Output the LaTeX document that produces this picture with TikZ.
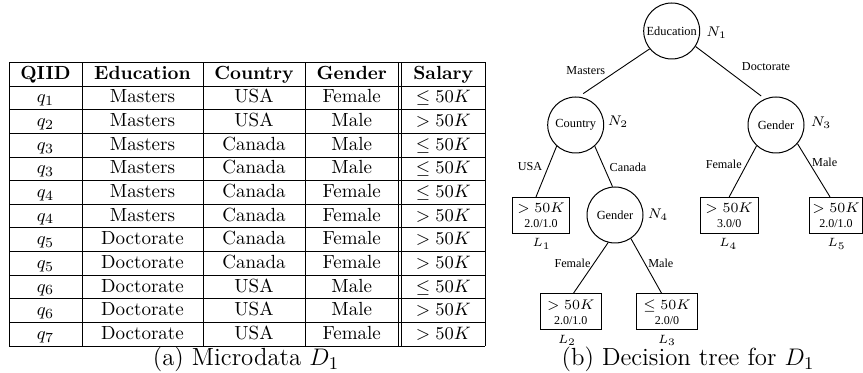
\documentclass[tikz,border=0pt]{standalone}
\usepackage{fontspec}
\newfontfamily\tms{Liberation Serif}
\usetikzlibrary{calc}
\begin{document}
\begin{tikzpicture}[x=0.5pt,y=-0.5pt,
  tline/.style={line width=0.5pt},
  cell/.style={inner sep=0pt, text height=1.6ex, text depth=0.45ex, font=\fontsize{9.5}{11}\selectfont},
  hcell/.style={inner sep=0pt, text height=1.6ex, text depth=0.45ex, font=\fontsize{9.5}{11}\selectfont\bfseries},
  tnode/.style={circle, draw, line width=0.5pt, minimum size=28pt, inner sep=0pt, font=\tms\fontsize{6.2}{7}\selectfont},
  leaf/.style={draw, line width=0.5pt, inner sep=0pt, align=center, font=\fontsize{7.5}{7.6}\selectfont},
  elab/.style={font=\tms\fontsize{6.1}{7}\selectfont, inner sep=0pt},
  nlab/.style={font=\fontsize{7.5}{9}\selectfont, inner sep=0pt},
  llab/.style={font=\fontsize{6}{7}\selectfont, inner sep=0pt},
  edge/.style={line width=0.45pt},
  capt/.style={font=\fontsize{12.4}{14}\selectfont, inner sep=0pt, anchor=base}
]
\useasboundingbox (0,0) rectangle (863,373);
% ---------- table ----------
\def\rh{23.64}
\foreach \k in {0,...,12}{
  \pgfmathsetmacro\yy{62.5+\rh*\k}
  \draw[tline] (9,\yy) -- (485,\yy);
}
\pgfmathsetmacro\ybot{62.5+\rh*12}
\foreach \xx in {9,82,203,305,398.5,401.5,485}{
  \draw[tline] (\xx,62.5) -- (\xx,\ybot);
}
\pgfmathsetmacro\yh{62.5+\rh*0.5}
\node[hcell] (h1) at (45.5,\yh) {QIID};
\node[hcell] (h2) at (142.5,\yh) {Education};
\node[hcell] (h3) at (254,\yh) {Country};
\node[hcell] (h4) at (351.75,\yh) {Gender};
\node[hcell] (h5) at (443.25,\yh) {Salary};
\foreach \q/\e/\c/\g/\s [count=\i] in {
  1/Masters/USA/Female/\leq,
  2/Masters/USA/Male/>,
  3/Masters/Canada/Male/\leq,
  3/Masters/Canada/Male/\leq,
  4/Masters/Canada/Female/\leq,
  4/Masters/Canada/Female/>,
  5/Doctorate/Canada/Female/>,
  5/Doctorate/Canada/Female/>,
  6/Doctorate/USA/Male/\leq,
  6/Doctorate/USA/Male/>,
  7/Doctorate/USA/Female/>}{
  \pgfmathsetmacro\yr{62.5+\rh*(\i+0.5)}
  \node[cell] (q\i) at (45.5,\yr) {$q_{\q}$};
  \node[cell] (e\i) at (142.5,\yr) {\e};
  \node[cell] (c\i) at (254,\yr) {\c};
  \node[cell] (g\i) at (351.75,\yr) {\g};
  \node[cell] (s\i) at (443.25,\yr) {$\s 50K$};
}
\node[capt] (capa) at (246,366) {(a) Microdata $D_1$};
% ---------- tree ----------
\node[tnode] (n1) at (671.7,31) {Education};
\node[tnode] (n2) at (575.7,125) {Country};
\node[tnode] (n3) at (776,125) {Gender};
\node[tnode] (n4) at (615,215) {Gender};
\node[nlab] (n1l) at (716.7,33) {$N_1$};
\node[nlab] (n2l) at (618,122) {$N_2$};
\node[nlab] (n3l) at (821,123) {$N_3$};
\node[nlab] (n4l) at (658,215) {$N_4$};
\node[leaf, minimum width=28.3pt, minimum height=18.3pt] (l1) at (541,215.7)
  {$>50K$\\{\tms\fontsize{6}{7}\selectfont 2.0/1.0}};
\node[leaf, minimum width=30.8pt, minimum height=18pt] (l2) at (570.8,312)
  {$>50K$\\{\tms\fontsize{6}{7}\selectfont 2.0/1.0}};
\node[leaf, minimum width=30.3pt, minimum height=18pt] (l3) at (667,312)
  {$\leq 50K$\\{\tms\fontsize{6}{7}\selectfont 2.0/0}};
\node[leaf, minimum width=29.2pt, minimum height=18.3pt] (l4) at (729.2,215.7)
  {$>50K$\\{\tms\fontsize{6}{7}\selectfont 3.0/0}};
\node[leaf, minimum width=26.5pt, minimum height=18.3pt] (l5) at (836,215.7)
  {$>50K$\\{\tms\fontsize{6}{7}\selectfont 2.0/1.0}};
\node[llab] (l1l) at (541.7,244) {$L_1$};
\node[llab] (l2l) at (567,340.7) {$L_2$};
\node[llab] (l3l) at (667,340.7) {$L_3$};
\node[llab] (l4l) at (728.3,244) {$L_4$};
\node[llab] (l5l) at (836.7,244) {$L_5$};
\draw[edge, shorten >=2.75pt] (n1.219) -- (n2.84);
\draw[edge, shorten >=2.3pt] (n1.327.6) -- (n3.113);
\draw[edge] (n2.228) -- ([xshift=-2.5pt]l1.north);
\draw[edge] (n2.312) -- (n4.95);
\draw[edge] (n3.227) -- (l4.north);
\draw[edge] (n3.319) -- ([xshift=-3pt]l5.north);
\draw[edge] (n4.256) -- ([xshift=1.25pt]l2.north);
\draw[edge] (n4.304.5) -- ([xshift=-2.65pt]l3.north);
\node[elab] (m1) at (585.8,71) {Masters};
\node[elab] (m2) at (766,67) {Doctorate};
\node[elab] (m3) at (530,167) {USA};
\node[elab] (m4) at (628,167) {Canada};
\node[elab] (m5) at (723.7,164) {Female};
\node[elab] (m6) at (824.7,162) {Male};
\node[elab] (m7) at (572.5,263.3) {Female};
\node[elab] (m8) at (660.8,263.3) {Male};
\node[capt] (capb) at (688,366) {(b) Decision tree for $D_1$};
\end{tikzpicture}
\end{document}
